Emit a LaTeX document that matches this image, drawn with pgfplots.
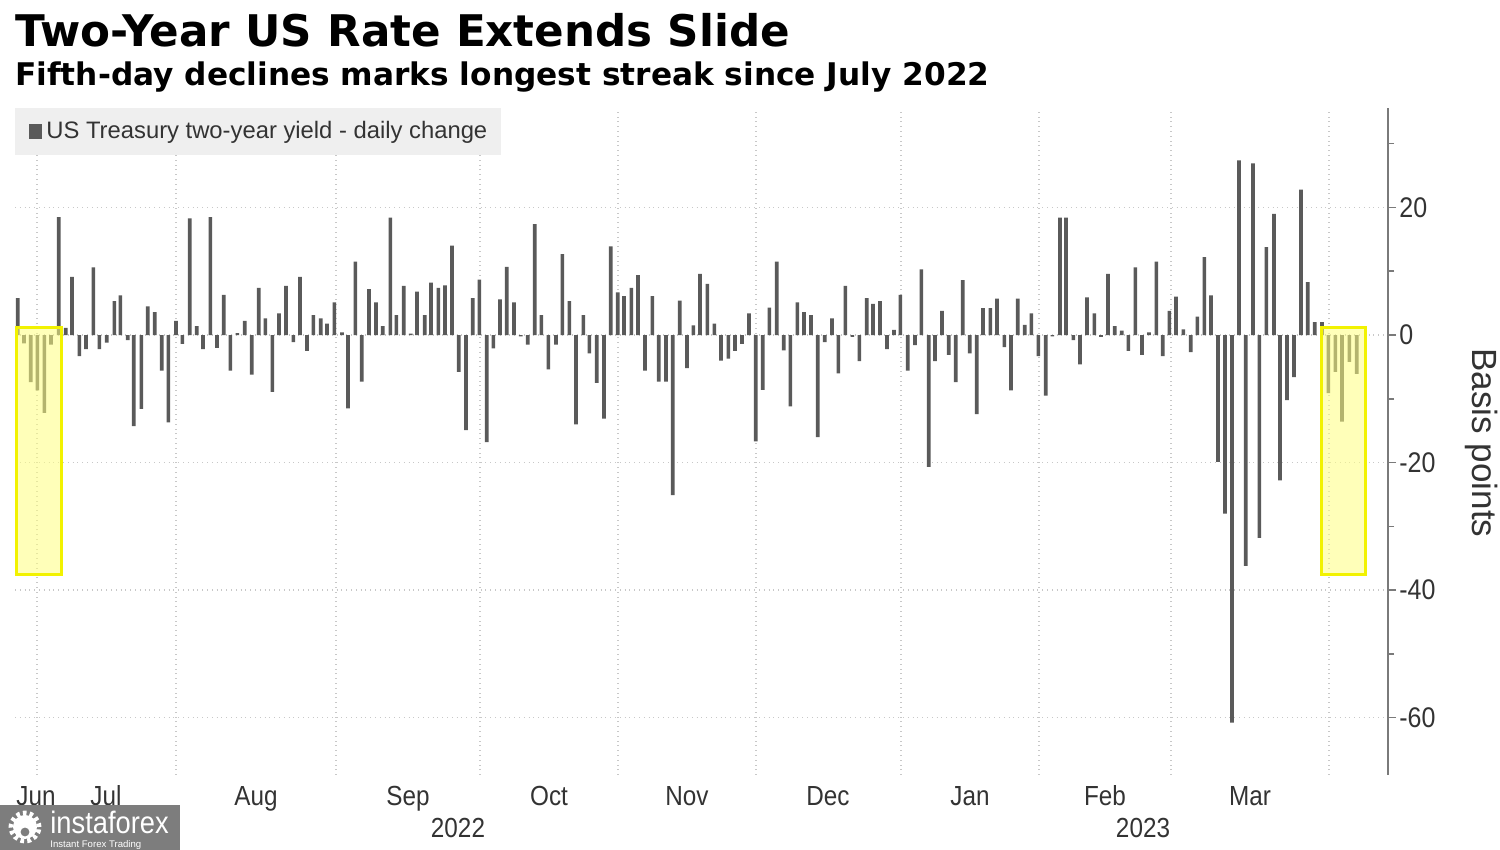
\documentclass[border=0pt]{standalone}
\usepackage{fontspec}
\setmainfont{Liberation Sans}
\newfontfamily\titlefont{DejaVu Sans}
\newfontfamily\tickfont{Liberation Sans}[FakeStretch=0.88]
\usepackage{pgfplots}
\pgfplotsset{compat=1.18}
\definecolor{barcol}{HTML}{5A5A5A}
\definecolor{gridcol}{HTML}{C8C8C8}
\definecolor{axiscol}{HTML}{7A7A7A}
\definecolor{legbg}{HTML}{EFEFEF}
\definecolor{txtcol}{HTML}{333333}
\definecolor{hlfill}{HTML}{FFFF80}
\definecolor{hlline}{HTML}{F2F200}
\definecolor{wmgray}{HTML}{7D7D7D}
\begin{document}
\begin{tikzpicture}
\useasboundingbox (0,0) rectangle (750pt,425pt);
\fill[white] (0,0) rectangle (750pt,425pt);
\node[anchor=base west, inner sep=0] at (7.5pt,401.5pt) {\titlefont\bfseries\fontsize{21.8}{25}\selectfont Two-Year US Rate Extends Slide};
\node[anchor=base west, inner sep=0] at (7.5pt,382pt) {\titlefont\bfseries\fontsize{15.6}{18}\selectfont Fifth-day declines marks longest streak since July 2022};
\begin{axis}[
  at={(7.5pt,37.5pt)}, anchor=south west,
  scale only axis, width=686.5pt, height=333.5pt,
  xmin=15, xmax=1388, ymin=-69, ymax=35.6,
  axis x line*=bottom, axis y line*=right,
  x axis line style={draw=none},
  y axis line style={draw=axiscol, line width=1pt},
  xtick={37,176,336,480,618,756,901,1039,1171,1329},
  xticklabels={},
  xtick style={draw=none},
  xmajorgrids, ymajorgrids,
  grid style={gridcol, dotted, line width=0.7pt},
  extra x ticks={36,106,256,408,549,687,828,970,1105,1250},
  extra x tick labels={Jun,Jul,Aug,Sep,Oct,Nov,Dec,Jan,Feb,Mar},
  extra x tick style={grid=none, major tick length=0pt, xticklabel style={anchor=base, inner sep=0pt, yshift=-15.5pt}},
  ytick={-60,-40,-20,0,20}, yticklabels={-60,-40,-20,0,20},
  minor ytick={-50,-30,-10,10,30},
  tick align=outside,
  major tick length=4pt, minor tick length=3pt,
  ytick style={draw=axiscol, line width=0.8pt},
  yticklabel style={inner xsep=1.5pt, font=\tickfont\fontsize{14.2}{16}\selectfont},
  tick label style={font=\tickfont\fontsize{13.8}{15}\selectfont, text=txtcol},
  legend style={at={(0,1)}, anchor=north west, draw=none, fill=legbg,
    font=\fontsize{11.9}{13}\selectfont, text=txtcol, inner xsep=5pt, inner ysep=4.5pt},
  legend cell align=left,
  clip=false,
]
\addplot[ybar, bar width=1.8pt, fill=barcol, draw=none,
  legend image code/.code={\path (0pt,0pt); \fill[barcol] (2pt,-3.8pt) rectangle (8.5pt,3.6pt);}]
table[row sep=\\] {
x y\\
17.7 5.8\\ 24 -1.3\\ 30.7 -7.4\\ 37.3 -8.7\\ 44.3 -12.2\\ 51 -1.5\\ 58.7 18.5\\ 65.7 1.1\\
72 9.1\\ 79.3 -3.3\\ 86 -2.2\\ 93.3 10.6\\ 99.3 -2.2\\ 106.7 -1.2\\ 114.3 5.3\\ 120.3 6.2\\
127.7 -0.8\\ 133.7 -14.3\\ 141.3 -11.6\\ 147.7 4.5\\ 154.7 3.6\\ 161.7 -5.6\\ 168.3 -13.7\\
176 2.2\\ 182.3 -1.4\\ 189.7 18.3\\ 196.7 1.4\\ 203 -2.2\\ 210.3 18.5\\ 217 -2\\ 223.7 6.3\\
230.3 -5.6\\ 237.3 0.3\\ 244.7 2.2\\ 251.7 -6.2\\ 258.7 7.4\\ 265.3 2.6\\ 272.3 -8.9\\ 279 3.4\\
286 7.7\\ 293.3 -1.1\\ 300 9.1\\ 307 -2.5\\ 313.3 3.1\\ 320.7 2.6\\ 327 1.8\\ 334.3 5.1\\
342 0.4\\ 348 -11.5\\ 355.3 11.5\\ 361.7 -7.3\\ 369 7.2\\ 376 5.1\\ 382.7 1.4\\ 390.3 18.4\\
396.3 3.1\\ 403.7 7.7\\ 410.7 0.2\\ 417 6.8\\ 424.7 3.1\\ 431 8.2\\ 438.3 7.4\\ 445 7.8\\
452 14\\ 458.7 -5.8\\ 466 -14.9\\ 472.7 5.8\\ 479.3 8.7\\ 486.7 -16.8\\ 493.3 -2.1\\ 500 5.6\\
506.7 10.7\\ 514 5.1\\ 520.7 -0.2\\ 527.7 -1.5\\ 534.7 17.4\\ 541.3 3.1\\ 548.3 -5.4\\ 556 -1.5\\
562.3 12.7\\ 569.3 5.3\\ 576 -14\\ 583.3 3.1\\ 589.3 -2.9\\ 596.7 -7.5\\ 604 -13.1\\ 610.7 13.9\\
617.7 6.7\\ 624 6.1\\ 631.3 7.4\\ 638 9.4\\ 645 -5.6\\ 652.3 6.1\\ 658.7 -7.3\\ 666 -7.3\\
672.7 -25.1\\ 679.7 5.4\\ 687 -5.2\\ 693.3 1.5\\ 700 9.6\\ 707.3 8\\ 714.3 1.8\\ 721 -4\\
728.3 -3.7\\ 735 -2.5\\ 742 -1.4\\ 749 3.4\\ 755.7 -16.7\\ 762.7 -8.6\\ 769.3 4.3\\ 776.7 11.5\\
783.7 -2.4\\ 790.3 -11.2\\ 797.3 5.1\\ 804 3.6\\ 811 3.1\\ 817.7 -16\\ 824.7 -1.1\\ 832 2.6\\
838.3 -6\\ 845.3 7.7\\ 852.3 -0.3\\ 859.3 -4.1\\ 866.7 5.8\\ 873 4.9\\ 880 5.3\\ 887 -2.2\\
894 0.8\\ 900.3 6.3\\ 907.7 -5.6\\ 915 -1.6\\ 921.3 10.3\\ 928.7 -20.7\\ 935 -4.1\\ 942 3.8\\
948.7 -3.1\\ 955.7 -7.4\\ 962.7 8.6\\ 969.7 -2.9\\ 976.7 -12.4\\ 983 4.2\\ 990.3 4.2\\ 997 5.7\\
1004.3 -1.9\\ 1011 -8.7\\ 1017.7 5.7\\ 1024.7 1.6\\ 1031.3 3.4\\ 1038.3 -3.3\\ 1045.7 -9.5\\ 1052.3 -0.2\\
1060 18.4\\ 1066 18.4\\ 1073.3 -0.8\\ 1080 -4.6\\ 1087 5.9\\ 1094.3 3.4\\ 1101 -0.3\\ 1108 9.6\\
1114.7 1.4\\ 1121.7 0.7\\ 1128.3 -2.5\\ 1135.3 10.6\\ 1142 -3.1\\ 1149 0.4\\ 1156.3 11.5\\ 1162.7 -3.3\\
1169.3 3.8\\ 1176 6\\ 1183.3 0.9\\ 1190.7 -2.7\\ 1197.3 2.9\\ 1204.3 12.2\\ 1211 6.2\\ 1218 -19.9\\
1225 -28\\ 1232 -60.8\\ 1239 27.4\\ 1245.7 -36.2\\ 1253 26.9\\ 1259.3 -31.8\\ 1266.3 13.8\\ 1274 19\\
1280 -22.8\\ 1287 -10.2\\ 1294 -6.6\\ 1301 22.8\\ 1307.7 8.3\\ 1314.7 2\\ 1322 2\\ 1328.3 -9.1\\
1335.3 -5.8\\ 1342 -13.6\\ 1349.3 -4.2\\ 1356.7 -6.1\\
};
\addlegendentry{US Treasury two-year yield - daily change}
\fill[hlfill, fill opacity=0.55] (axis cs:16,1.2) rectangle (axis cs:61.5,-37.5);
\draw[hlline, line width=1.5pt] (axis cs:16,1.2) rectangle (axis cs:61.5,-37.5);
\fill[hlfill, fill opacity=0.55] (axis cs:1321.5,1.1) rectangle (axis cs:1365.5,-37.5);
\draw[hlline, line width=1.5pt] (axis cs:1321.5,1.1) rectangle (axis cs:1365.5,-37.5);
\node[anchor=base, font=\tickfont\fontsize{13.8}{15}\selectfont, text=txtcol, yshift=-31.5pt] at (axis cs:458,-69) {2022};
\node[anchor=base, font=\tickfont\fontsize{13.8}{15}\selectfont, text=txtcol, yshift=-31.5pt] at (axis cs:1143,-69) {2023};
\end{axis}
\node[rotate=-90, font=\fontsize{17.5}{19}\selectfont, text=txtcol] at (741pt,203.5pt) {Basis points};
% watermark
\fill[wmgray] (0,0) rectangle (90pt,22.5pt);
\draw[white, line width=2.4pt, dash pattern=on 1.8pt off 1.6pt] (12.5pt,11.5pt) circle (7pt);
\fill[white] (12.5pt,11.5pt) circle (6pt);
\fill[wmgray] (12.5pt,9pt) circle (2.2pt);
\node[anchor=base west, inner sep=0, text=white, font=\tickfont\fontsize{15.5}{17}\selectfont] at (25pt,8.3pt) {instaforex};
\node[anchor=base west, inner sep=0, text=white, font=\fontsize{4.8}{5.5}\selectfont] at (25pt,1pt) {Instant Forex Trading};
\end{tikzpicture}
\end{document}
